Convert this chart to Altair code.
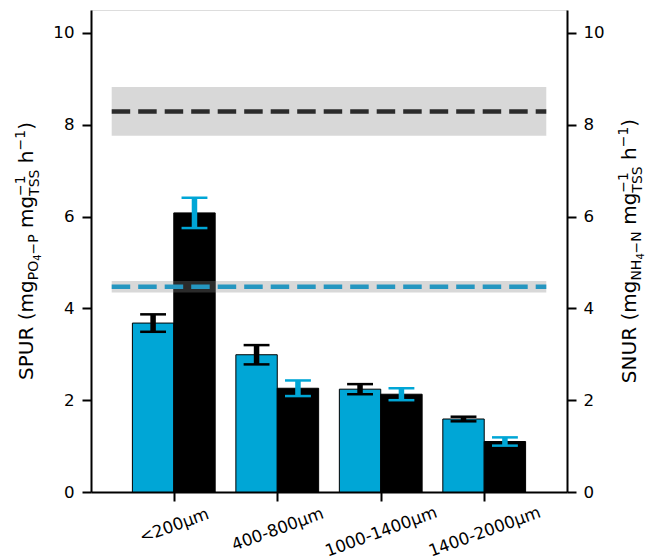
import altair as alt
import pandas as pd

# ---- data -------------------------------------------------------------
sizes = ["<200μm", "400-800μm", "1000-1400μm", "1400-2000μm"]

spur_mean = [3.68, 2.99, 2.24, 1.59]   # left axis, cyan bars
spur_sd = [0.19, 0.21, 0.11, 0.05]
snur_mean = [6.08, 2.26, 2.13, 1.10]   # right axis, black bars
snur_sd = [0.33, 0.17, 0.13, 0.09]

spur_ref_mean, spur_ref_sd = 4.47, 0.125   # reference level, cyan dashed
snur_ref_mean, snur_ref_sd = 8.29, 0.53    # reference level, black dashed

# ---- style / layout ---------------------------------------------------
BLUE = "#00A6D6"
BLUE_LINE = "#2596c0"
FONT = "DejaVu Sans"
W, H = 476, 482
BAR = 0.4          # bar width in category units
CAP = 0.125        # half width of error-bar caps
SPAN = (-0.6, 3.6) # horizontal extent of the reference bands
TICK_FS = 16.67
TITLE_FS = 20.0

def series(means, sds, side):
    rows = []
    for i, (m, s) in enumerate(zip(means, sds)):
        x0 = i - BAR if side == "left" else i
        xc = x0 + BAR / 2
        rows.append(dict(size=sizes[i], x0=x0, x1=x0 + BAR, xc=xc,
                         cap0=xc - CAP, cap1=xc + CAP,
                         mean=m, lo=m - s, hi=m + s))
    return pd.DataFrame(rows)

spur = series(spur_mean, spur_sd, "left")
snur = series(snur_mean, snur_sd, "right")

def ref_frame(mean, sd):
    return pd.DataFrame([dict(start=SPAN[0], end=SPAN[1], mid=mean,
                              lo=mean - sd, hi=mean + sd)])

spur_ref = ref_frame(spur_ref_mean, spur_ref_sd)
snur_ref = ref_frame(snur_ref_mean, snur_ref_sd)

# ---- scales and axes --------------------------------------------------
xscale = alt.Scale(domain=[-0.8, 3.8], nice=False, zero=False)
yscale = alt.Scale(domain=[0, 10.5], nice=False, zero=False)

label_expr = "[" + ",".join(f"'{s}'" for s in sizes) + "][datum.value]"
x_axis = alt.Axis(
    values=[0, 1, 2, 3], labelExpr=label_expr, title=None, grid=False,
    labelAngle=340, labelAlign="center", labelBaseline="middle",
    labelPadding={"condition": [{"test": "datum.value == 0", "value": 24.5},
                                {"test": "datum.value == 1", "value": 28}],
                  "value": 30.5},
    labelFont=FONT, labelFontSize=TICK_FS, labelColor="black",
    labelOverlap=False, labelFlush=False, labelBound=False,
    domainColor="black", domainWidth=2,
    tickColor="black", tickWidth=2, tickSize=9,
)

def y_axis(orient):
    return alt.Axis(
        orient=orient, values=[0, 2, 4, 6, 8, 10], format="d", title=None,
        grid=False, labelFont=FONT, labelFontSize=TICK_FS, labelColor="black",
        labelPadding=8 if orient == "left" else 7,
        domainColor="black", domainWidth=2,
        tickColor="black", tickWidth=2, tickSize=9,
    )

left_axis = y_axis("left")

def X(field):
    return alt.X(field, type="quantitative", scale=xscale, axis=x_axis)

def Y(field, axis=left_axis):
    return alt.Y(field, type="quantitative", scale=yscale, axis=axis)

# ---- marks --------------------------------------------------------------
def bars(df, color):
    return alt.Chart(df).mark_rect(fill=color, stroke="black", strokeWidth=1).encode(
        x=X("x0"), x2="x1", y=Y("mean"), y2=alt.datum(0)
    )

def band(df):
    return alt.Chart(df).mark_rect(color="#878787", opacity=0.32).encode(
        x=X("start"), x2="end", y=Y("lo"), y2="hi"
    )

def dashed(df, color, opacity):
    return alt.Chart(df).mark_rule(
        color=color, opacity=opacity, strokeWidth=4.5, strokeDash=[18.5, 8], strokeCap="butt"
    ).encode(x=X("start"), x2="end", y=Y("mid"))

def errorbars(df, color, axis):
    stem = alt.Chart(df).mark_rule(color=color, strokeWidth=5.5, strokeCap="butt").encode(
        x=X("xc"), y=Y("lo", axis), y2="hi"
    )
    cap_lo = alt.Chart(df).mark_rule(color=color, strokeWidth=2.5, strokeCap="butt").encode(
        x=X("cap0"), x2="cap1", y=Y("lo", axis)
    )
    cap_hi = alt.Chart(df).mark_rule(color=color, strokeWidth=2.5, strokeCap="butt").encode(
        x=X("cap0"), x2="cap1", y=Y("hi", axis)
    )
    return [stem, cap_lo, cap_hi]

# ---- rotated axis titles with sub/superscripts --------------------------
ADV = {"S": 0.635, "P": 0.603, "U": 0.732, "R": 0.695, "N": 0.748, "H": 0.752,
       "O": 0.787, "T": 0.611, " ": 0.318, "(": 0.390, ")": 0.390, "m": 0.974,
       "g": 0.635, "h": 0.634, "−": 0.838, "1": 0.636, "4": 0.636}

def text_width(s, fs):
    return sum(ADV[c] for c in s) * fs

SUB = TITLE_FS * 0.7
SUBSUB = SUB * 0.7

def title_groups(species, sub_a, sub_b):
    # each group: list of (text, font size, baseline shift); groups follow each other
    return [
        [(f"{species} (mg", TITLE_FS, 0)],
        [(sub_a, SUB, 5)],
        [("4", SUBSUB, 8)],
        [(f"−{sub_b}", SUB, 5)],
        [(" mg", TITLE_FS, 0)],
        [("−1", SUB, -8), ("TSS", SUB, 6)],
        [(" h", TITLE_FS, 0)],
        [("−1", SUB, -8)],
        [(")", TITLE_FS, 0)],
    ]

one_row = pd.DataFrame({"k": [0]})

def title_layers(groups, x_base):
    total = sum(max(text_width(t, fs) for t, fs, _ in g) for g in groups)
    y = H / 2 + total / 2
    layers = []
    for g in groups:
        for t, fs, shift in g:
            # SVG drops leading blanks, so turn them into an offset
            body = t.lstrip(" ")
            lead = text_width(t[: len(t) - len(body)], fs)
            layers.append(
                alt.Chart(one_row).mark_text(
                    text=body, font=FONT, fontSize=fs, angle=270,
                    align="left", baseline="alphabetic", color="black"
                ).encode(x=alt.value(x_base + shift), y=alt.value(y - lead))
            )
        y -= max(text_width(t, fs) for t, fs, _ in g)
    return layers

left_title = title_layers(title_groups("SPUR", "PO", "P"), -58)
right_title = title_layers(title_groups("SNUR", "NH", "N"), 545)

# ---- assemble -----------------------------------------------------------
left_group = alt.layer(
    bars(spur, BLUE),
    bars(snur, "black"),
    band(snur_ref),
    band(spur_ref),
    dashed(snur_ref, "black", 0.8),
    dashed(spur_ref, BLUE_LINE, 1.0),
    *errorbars(spur, "black", left_axis),
    *left_title,
    *right_title,
)

right_group = alt.layer(*errorbars(snur, BLUE, y_axis("right")))

chart = (
    alt.layer(left_group, right_group)
    .resolve_scale(y="independent")
    .properties(
        width=W, height=H,
        padding={"left": 91, "top": 10, "right": 86, "bottom": 68},
        autosize=alt.AutoSizeParams(type="none"),
    )
    .configure_view(stroke="black", strokeWidth=2)
    .configure(background="white")
)

chart.save("out.html", embed_options={"renderer": "svg", "actions": False})
